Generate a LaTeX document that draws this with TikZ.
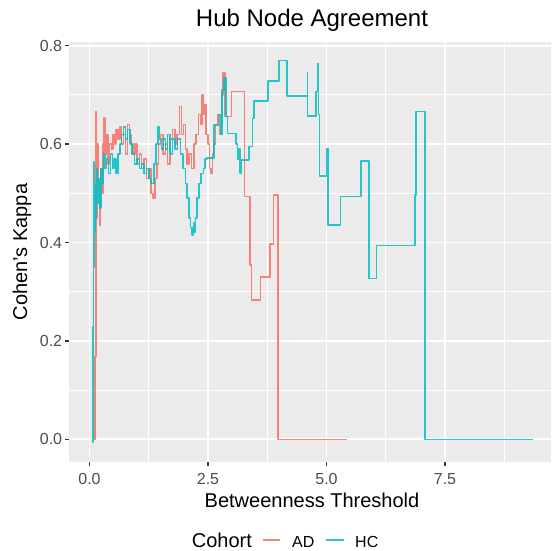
\documentclass[tikz,border=0pt]{standalone}
\usepackage{fontspec}
\setmainfont{Liberation Sans}
\definecolor{adcol}{HTML}{F8766D}
\definecolor{hccol}{HTML}{00BFC4}
\definecolor{panelbg}{HTML}{EBEBEB}
\definecolor{tickcol}{HTML}{333333}
\definecolor{labcol}{HTML}{4D4D4D}
\tikzset{
  majorgrid/.style={white, line width=1.9pt},
  minorgrid/.style={white, line width=0.9pt},
  tickmark/.style={tickcol, line width=1.3pt},
  ticklab/.style={text=labcol, inner sep=0pt, font=\fontsize{16}{18}\selectfont},
  axtitle/.style={text=black, inner sep=0pt, font=\fontsize{20}{24}\selectfont},
  plottitle/.style={text=black, inner sep=0pt, font=\fontsize{24}{28}\selectfont},
  adline/.style={adcol, draw opacity=0.9, line width=1.5pt, line join=round},
  hcline/.style={hccol, draw opacity=0.85, line width=1.5pt, line join=round},
}
\begin{document}
\begin{tikzpicture}[x=1pt,y=1pt]
\useasboundingbox (0,0) rectangle (551,551);
\fill[white] (0,0) rectangle (551,551);
% panel background
\fill[panelbg] (69,89) rectangle (551,508.7);

% grid and data, in data units
\begin{scope}[shift={(89.5pt,111.7pt)}, x=47.4pt, y=492pt]
  \clip (-0.4325,-0.0461) rectangle (9.736,0.807);
  \foreach \v in {1.25,3.75,6.25,8.75}
    \draw[minorgrid] (\v,-0.0461) -- (\v,0.807);
  \foreach \v in {0.1,0.3,0.5,0.7}
    \draw[minorgrid] (-0.4325,\v) -- (9.736,\v);
  \foreach \v in {0,2.5,5,7.5}
    \draw[majorgrid] (\v,-0.0461) -- (\v,0.807);
  \foreach \v in {0,0.2,0.4,0.6,0.8}
    \draw[majorgrid] (-0.4325,\v) -- (9.736,\v);

  % AD cohort
  \draw[adline] plot[const plot] coordinates {
    (0.10,0.0) (0.12,0.168) (0.14,0.666) (0.15,0.45) (0.17,0.60) (0.19,0.52)
    (0.21,0.435) (0.23,0.55) (0.26,0.50) (0.29,0.60) (0.31,0.653) (0.33,0.58)
    (0.36,0.62) (0.39,0.56) (0.42,0.60) (0.46,0.59) (0.50,0.62) (0.53,0.60)
    (0.56,0.63) (0.60,0.61) (0.64,0.635) (0.68,0.60) (0.72,0.62) (0.76,0.58)
    (0.80,0.64) (0.84,0.62) (0.88,0.60) (0.92,0.58) (0.96,0.60) (1.00,0.56)
    (1.05,0.58) (1.10,0.55) (1.15,0.57) (1.20,0.53) (1.25,0.55) (1.30,0.50)
    (1.34,0.49) (1.38,0.53) (1.42,0.56) (1.46,0.60) (1.50,0.62) (1.55,0.58)
    (1.60,0.60) (1.65,0.56) (1.70,0.61) (1.75,0.63) (1.80,0.60) (1.85,0.62)
    (1.90,0.676) (1.94,0.62) (1.98,0.64) (2.02,0.59) (2.06,0.56) (2.10,0.58)
    (2.15,0.55) (2.20,0.60) (2.25,0.62) (2.30,0.66) (2.34,0.64) (2.37,0.70)
    (2.40,0.66) (2.43,0.68) (2.46,0.62) (2.50,0.60) (2.53,0.55) (2.56,0.54)
    (2.59,0.58) (2.62,0.60) (2.66,0.64) (2.70,0.66) (2.74,0.62) (2.78,0.70)
    (2.82,0.744) (2.86,0.656) (3.00,0.7065) (3.27,0.493) (3.386,0.354)
    (3.42,0.283) (3.61,0.33) (3.81,0.397) (3.88,0.4965) (3.98,0.0) (5.43,0.0)
  };

  % HC cohort
  \draw[hcline] plot[const plot] coordinates {
    (0.05,-0.005) (0.07,0.229) (0.08,0.564) (0.09,0.35) (0.10,0.50) (0.11,0.42)
    (0.12,0.52) (0.13,0.45) (0.15,0.55) (0.17,0.48) (0.19,0.53) (0.21,0.47)
    (0.24,0.55) (0.27,0.52) (0.30,0.58) (0.33,0.55) (0.36,0.57) (0.40,0.54)
    (0.44,0.58) (0.48,0.55) (0.52,0.57) (0.56,0.54) (0.60,0.58) (0.64,0.60)
    (0.68,0.62) (0.72,0.635) (0.76,0.61) (0.80,0.63) (0.85,0.60) (0.90,0.58)
    (0.95,0.56) (1.00,0.57) (1.05,0.55) (1.10,0.56) (1.15,0.54) (1.20,0.55)
    (1.25,0.53) (1.30,0.52) (1.36,0.56) (1.40,0.60) (1.44,0.635) (1.48,0.61)
    (1.52,0.59) (1.56,0.61) (1.60,0.59) (1.65,0.62) (1.70,0.58) (1.75,0.61)
    (1.80,0.59) (1.86,0.61) (1.92,0.58) (1.97,0.55) (2.02,0.52) (2.06,0.49)
    (2.10,0.45) (2.13,0.43) (2.16,0.415) (2.19,0.44) (2.21,0.42) (2.24,0.45)
    (2.27,0.49) (2.31,0.52) (2.35,0.54) (2.40,0.55) (2.44,0.57) (2.48,0.572)
    (2.63,0.639) (2.72,0.659) (2.77,0.62) (2.80,0.71) (2.84,0.734) (2.88,0.656)
    (2.91,0.622) (3.09,0.60) (3.12,0.57) (3.15,0.59) (3.175,0.541) (3.21,0.568)
    (3.37,0.595) (3.44,0.652) (3.47,0.688) (3.77,0.728) (4.00,0.77) (4.17,0.698)
    (4.595,0.744) (4.60,0.657) (4.778,0.7065) (4.814,0.764) (4.835,0.66)
    (4.848,0.535) (5.00,0.591) (5.03,0.4356) (5.30,0.493) (5.728,0.5657)
    (5.896,0.327) (6.059,0.394) (6.867,0.4965) (6.888,0.666) (7.08,0.0) (9.36,0.0)
  };
\end{scope}

% axes: ticks and tick labels
\begin{scope}[shift={(89.5pt,111.7pt)}, x=47.4pt, y=492pt]
  \foreach \v/\t [count=\i] in {0/0.0,2.5/2.5,5/5.0,7.5/7.5} {
    \draw[tickmark] (\v,-0.0461) -- ++(0pt,-4pt);
    \node[ticklab, anchor=base] (xt\i) at ([yshift=-23pt]\v,-0.0461) {\t};
  }
  \foreach \v/\t [count=\i] in {0/0.0,0.2/0.2,0.4/0.4,0.6/0.6,0.8/0.8} {
    \draw[tickmark] (-0.4325,\v) -- ++(-4pt,0pt);
    \node[ticklab, anchor=east] (yt\i) at ([xshift=-6.7pt]-0.4325,\v) {\t};
  }
\end{scope}

% titles
\node[plottitle, anchor=base] (title) at (312,524) {Hub Node Agreement};
\node[axtitle, anchor=base] (xtitle) at (312,43) {Betweenness Threshold};
\node[axtitle, rotate=90] (ytitle) at (22,299) {Cohen's Kappa};

% legend
\node[axtitle, anchor=base west] (legtitle) at (191.7,3.5) {Cohort};
\coordinate (adkeyA) at (262.7,11);
\coordinate (adkeyB) at (280.3,11);
\draw[adline] (adkeyA) -- (adkeyB);
\node[ticklab, text=black, anchor=base west] (adlab) at (292,3.7) {AD};
\coordinate (hckeyA) at (326.4,11);
\coordinate (hckeyB) at (343.8,11);
\draw[hcline] (hckeyA) -- (hckeyB);
\node[ticklab, text=black, anchor=base west] (hclab) at (355,3.7) {HC};
\end{tikzpicture}
\end{document}
